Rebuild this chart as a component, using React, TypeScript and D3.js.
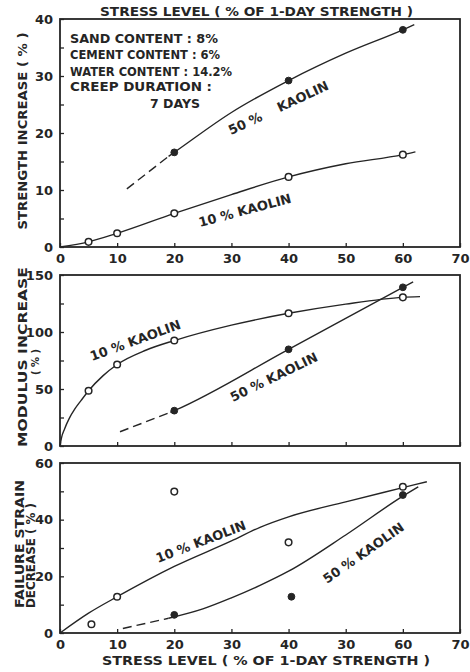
import React, { useEffect, useRef } from "react";
import * as d3 from "d3";

// x axis (stress level, % of 1-day strength)
const xTicks = [0, 10, 20, 30, 40, 50, 60, 70];
const xLabelsTop = ["0", "10", "20", "30", "40", "50", "60", "70"];
const xLabelsBottom = ["0", "10", "20", "30", "40", "30", "60", "70"];

// panel 1 - strength increase (%)
const strengthTicks = [0, 5, 10, 15, 20, 25, 30, 35, 40];
const strengthLabels = ["0", "", "10", "", "20", "", "30", "", "40"];
const strength10Pts = [[5, 0.9], [10, 2.4], [20, 5.9], [40, 12.3], [60, 16.2]];
const strength50Pts = [[20, 16.6], [40, 29.2], [60, 38.1]];
const strength10Curve = [[0, 0], [5, 0.9], [10, 2.4], [20, 5.9], [30, 9.2], [40, 12.3], [50, 14.6], [60, 16.2], [62.2, 16.7]];
const strength50Dash = [[11.7, 10.2], [19, 15.9]];
const strength50Curve = [[19, 15.9], [20, 16.6], [30, 23.6], [40, 29.2], [50, 34.0], [60, 38.1], [62, 39.0]];

// panel 2 - modulus increase (%)
const modulusTicks = [0, 25, 50, 75, 100, 125, 150];
const modulusLabels = ["0", "", "50", "", "100", "", "150"];
const modulus10Pts = [[5, 48.5], [10, 71.5], [20, 92.5], [40, 116.4], [60, 130.4]];
const modulus50Pts = [[20, 31], [40, 84.8], [60, 139.2]];
const modulus10Curve = [[0, 0], [0.25, 7], [0.8, 15], [1.6, 24], [2.6, 32.5], [3.7, 40], [5, 48.5], [7.5, 61.5], [10, 71.5], [15, 84], [20, 92.5], [30, 106], [40, 116.4], [50, 124.5], [60, 130.4], [63, 131]];
const modulus50Dash = [[10.5, 12.5], [19.3, 29.5]];
const modulus50Curve = [[19.3, 29.5], [20, 31], [40, 84.8], [60, 139.2], [61.8, 144]];

// panel 3 - failure strain decrease (%)
const strainTicks = [0, 10, 20, 30, 40, 50, 60];
const strainLabels = ["0", "", "20", "", "40", "", "60"];
const strain10Pts = [[5.5, 3.1], [10, 12.8], [20, 49.9], [40, 32], [60, 51.6]];
const strain50Pts = [[20, 6.4], [40.5, 12.8], [60, 48.7]];
const strain10Curve = [[0, 0], [5, 7], [10, 12.8], [20, 23.5], [30, 32.5], [35, 37.3], [40, 41], [50, 46.3], [60, 51.3], [64.2, 53.4]];
const strain50Dash = [[11, 1.6], [19, 5.2]];
const strain50Curve = [[19, 5.2], [25, 8.5], [30, 12.4], [35, 16.8], [40, 21.8], [50, 34.6], [60, 48.3], [62.7, 51.6]];

const INK = "#252525";
const FONT = "'DejaVu Sans', sans-serif";

const x = d3.scaleLinear().domain([0, 70]).range([60, 460]);

const panels = [
  { key: "p1", y: d3.scaleLinear().domain([0, 40]).range([247, 19]), ticks: strengthTicks, labels: strengthLabels, xLabels: xLabelsTop,
    open: strength10Pts, filled: strength50Pts, c10: strength10Curve, dash50: strength50Dash, c50: strength50Curve },
  { key: "p2", y: d3.scaleLinear().domain([0, 150]).range([446, 275]), ticks: modulusTicks, labels: modulusLabels, xLabels: null,
    open: modulus10Pts, filled: modulus50Pts, c10: modulus10Curve, dash50: modulus50Dash, c50: modulus50Curve },
  { key: "p3", y: d3.scaleLinear().domain([0, 60]).range([633, 463]), ticks: strainTicks, labels: strainLabels, xLabels: xLabelsBottom,
    open: strain10Pts, filled: strain50Pts, c10: strain10Curve, dash50: strain50Dash, c50: strain50Curve },
];

function Panel({ p }: { p: any }) {
  const xAxisRef = useRef<SVGGElement>(null);
  const yAxisRef = useRef<SVGGElement>(null);
  const y = p.y;
  const [y0, y1] = y.range();

  useEffect(() => {
    const xa = d3.axisBottom(x).tickValues(xTicks).tickSize(-4).tickPadding(7)
      .tickFormat((d, i) => (p.xLabels ? p.xLabels[i] : ""));
    const gx = d3.select(xAxisRef.current!).call(xa);
    gx.select(".domain").remove();
    gx.selectAll("line").attr("stroke", INK).attr("stroke-width", 1.3);
    gx.selectAll("text").attr("fill", INK).attr("font-size", 13).attr("font-weight", "bold").attr("font-family", FONT);

    const ya = d3.axisLeft(y).tickValues(p.ticks).tickSize(-4).tickPadding(7)
      .tickFormat((d, i) => p.labels[i]);
    const gy = d3.select(yAxisRef.current!).call(ya);
    gy.select(".domain").remove();
    gy.selectAll("line").attr("stroke", INK).attr("stroke-width", 1.3);
    gy.selectAll("text").attr("fill", INK).attr("font-size", 13).attr("font-weight", "bold").attr("font-family", FONT);
  }, []);

  const line = d3.line<number[]>().x((d) => x(d[0])).y((d) => y(d[1])).curve(d3.curveMonotoneX);

  return (
    <g>
      <rect x={x(0)} y={y1} width={x(70) - x(0)} height={y0 - y1} fill="none" stroke={INK} strokeWidth={1.8} />
      <g ref={xAxisRef} transform={`translate(0,${y0})`} />
      <g ref={yAxisRef} transform={`translate(${x(0)},0)`} />
      <path d={line(p.c10)!} fill="none" stroke={INK} strokeWidth={1.4} />
      <path d={line(p.c50)!} fill="none" stroke={INK} strokeWidth={1.4} />
      <path d={d3.line<number[]>().x((d) => x(d[0])).y((d) => y(d[1]))(p.dash50)!} fill="none" stroke={INK} strokeWidth={1.4} strokeDasharray="9,5" />
      {p.open.map((d: number[], i: number) => (
        <circle key={"o" + i} cx={x(d[0])} cy={y(d[1])} r={3.3} fill="white" stroke={INK} strokeWidth={1.5} />
      ))}
      {p.filled.map((d: number[], i: number) => (
        <circle key={"f" + i} cx={x(d[0])} cy={y(d[1])} r={3.4} fill={INK} stroke={INK} strokeWidth={1} />
      ))}
    </g>
  );
}

function Rot({ x0, y0, a, size = 13, children }: any) {
  return (
    <text transform={`translate(${x0},${y0}) rotate(${a})`} fontSize={size} fontWeight="bold" fontFamily={FONT} fill={INK} xmlSpace="preserve">
      {children}
    </text>
  );
}

export default function App() {
  const txt = { fontFamily: FONT, fontWeight: "bold" as const, fill: INK };
  return (
    <svg width={470} height={672} style={{ position: "absolute", left: 0, top: 0, background: "white" }}>
      {panels.map((p) => (
        <Panel key={p.key} p={p} />
      ))}

      {/* titles */}
      <text x={100} y={16} fontSize={11.5} textLength={313} lengthAdjust="spacingAndGlyphs" {...txt}>STRESS LEVEL ( % OF 1-DAY STRENGTH )</text>
      <text x={102} y={665} fontSize={13} textLength={328} lengthAdjust="spacingAndGlyphs" {...txt}>STRESS  LEVEL ( % OF 1-DAY STRENGTH )</text>

      {/* y axis titles */}
      <text transform="translate(27,131) rotate(-90)" textAnchor="middle" fontSize={12.5} textLength={197} lengthAdjust="spacingAndGlyphs" {...txt}>STRENGTH INCREASE ( % )</text>
      <text transform="translate(27,447) rotate(-90)" fontSize={12.5} textLength={180} lengthAdjust="spacingAndGlyphs" {...txt}>MODULUS INCREASE</text>
      <text transform="translate(39,362) rotate(-90)" textAnchor="middle" fontSize={10} {...txt}>( % )</text>
      <text transform="translate(24,608) rotate(-90)" fontSize={12.5} textLength={128} lengthAdjust="spacingAndGlyphs" {...txt}>FAILURE STRAIN</text>
      <text transform="translate(35,608) rotate(-90)" fontSize={12} textLength={105} lengthAdjust="spacingAndGlyphs" {...txt}>DECREASE ( % )</text>

      {/* test conditions */}
      <g fontSize={12.5} {...txt}>
        <text x={70} y={43} textLength={148} lengthAdjust="spacingAndGlyphs">SAND CONTENT : 8%</text>
        <text x={70} y={59} textLength={150} lengthAdjust="spacingAndGlyphs">CEMENT CONTENT : 6%</text>
        <text x={70} y={76} textLength={162} lengthAdjust="spacingAndGlyphs">WATER CONTENT : 14.2%</text>
        <text x={70} y={91} textLength={142} lengthAdjust="spacingAndGlyphs">CREEP DURATION :</text>
        <text x={150} y={108}>7 DAYS</text>
      </g>

      {/* curve labels */}
      <Rot x0={231} y0={135} a={-25}>50 %    KAOLIN</Rot>
      <Rot x0={200} y0={227} a={-15}>10 % KAOLIN</Rot>
      <Rot x0={92} y0={361} a={-20}>10 % KAOLIN</Rot>
      <Rot x0={233} y0={402} a={-26}>50 % KAOLIN</Rot>
      <Rot x0={158} y0={563} a={-21}>10 % KAOLIN</Rot>
      <Rot x0={327} y0={584} a={-35}>50 % KAOLIN</Rot>
    </svg>
  );
}
